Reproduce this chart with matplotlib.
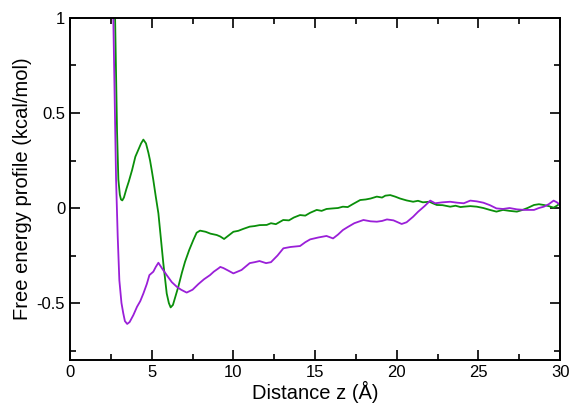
import matplotlib
matplotlib.use("Agg")
import matplotlib.pyplot as plt
from matplotlib.ticker import MultipleLocator

plt.rcParams['font.family'] = ['Liberation Sans', 'DejaVu Sans']
plt.rcParams['axes.unicode_minus'] = False

# curva verde
z_verde = [2.70, 2.76, 2.88, 2.96, 3.05, 3.12, 3.20, 3.30, 3.45, 3.60, 3.80, 4.00, 4.20, 4.35, 4.49,
           4.65, 4.80, 4.90, 5.00, 5.10, 5.25, 5.41, 5.55, 5.71, 5.92, 6.05, 6.16,
           6.30, 6.63, 6.85, 7.04, 7.30, 7.55, 7.75, 7.96, 8.30, 8.60, 8.98, 9.20,
           9.43, 9.70, 10.0, 10.3, 10.6, 11.0, 11.3, 11.6, 12.04, 12.3, 12.6, 13.05,
           13.4, 13.7, 14.08, 14.4, 14.7, 15.1, 15.4, 15.7, 16.1, 16.4, 16.7, 17.0,
           17.3, 17.76, 18.1, 18.4, 18.78, 19.1, 19.3, 19.6, 19.9, 20.2, 20.6, 21.0,
           21.3, 21.6, 22.0, 22.2, 22.45, 22.8, 23.27, 23.6, 23.9, 24.1, 24.5, 24.9,
           25.3, 25.7, 26.1, 26.5, 26.9, 27.35, 27.7, 28.0, 28.4, 28.7, 29.0, 29.3,
           29.6, 29.8, 30.0]
fe_verde = [1.20, 1.00, 0.40, 0.15, 0.07, 0.045, 0.04, 0.055, 0.10, 0.14, 0.20, 0.27, 0.31, 0.34, 0.36,
            0.34, 0.29, 0.25, 0.20, 0.147, 0.06, -0.028, -0.15, -0.29, -0.45, -0.50, -0.523,
            -0.51, -0.414, -0.34, -0.283, -0.22, -0.168, -0.13, -0.119, -0.125, -0.135, -0.142,
            -0.150, -0.163, -0.145, -0.125, -0.12, -0.11, -0.098, -0.095, -0.09, -0.089,
            -0.08, -0.085, -0.063, -0.065, -0.05, -0.037, -0.04, -0.025, -0.01, -0.015,
            -0.005, -0.002, 0.0, 0.007, 0.005, 0.02, 0.042, 0.045, 0.05, 0.06, 0.055,
            0.065, 0.068, 0.06, 0.05, 0.04, 0.033, 0.038, 0.03, 0.033, 0.025, 0.016, 0.015,
            0.007, 0.012, 0.005, 0.007, 0.01, 0.007, 0.0, -0.01, -0.019, -0.01, -0.015,
            -0.019, -0.01, 0.0, 0.016, 0.02, 0.016, 0.01, 0.002, 0.012, 0.025]

# curva violeta
z_violeta = [2.60, 2.65, 2.82, 2.92, 3.02, 3.15, 3.26, 3.36, 3.50, 3.65, 3.88, 4.10,
             4.30, 4.49, 4.70, 4.86, 5.10, 5.25, 5.41, 5.65, 5.92, 6.23, 6.53, 6.80,
             7.14, 7.50, 7.86, 8.20, 8.57, 8.80, 9.08, 9.20, 9.39, 9.70, 10.0, 10.5,
             11.0, 11.3, 11.6, 12.0, 12.3, 12.7, 13.06, 13.5, 14.08, 14.4, 14.7, 15.2,
             15.7, 16.1, 16.4, 16.7, 17.0, 17.4, 17.96, 18.4, 18.78, 19.1, 19.4, 19.8,
             20.3, 20.6, 21.0, 21.3, 21.7, 22.05, 22.35, 22.8, 23.27, 23.7, 24.1, 24.5,
             24.9, 25.3, 25.7, 26.1, 26.5, 26.9, 27.35, 27.8, 28.4, 28.7, 29.0, 29.3,
             29.6, 29.8, 30.0]
fe_violeta = [1.20, 1.00, 0.147, -0.15, -0.38, -0.50, -0.554, -0.595, -0.61, -0.60, -0.563,
              -0.52, -0.49, -0.45, -0.40, -0.353, -0.335, -0.31, -0.288, -0.32, -0.353,
              -0.39, -0.414, -0.43, -0.445, -0.43, -0.40, -0.375, -0.353, -0.335, -0.318,
              -0.31, -0.316, -0.33, -0.344, -0.326, -0.29, -0.285, -0.279, -0.29, -0.285,
              -0.25, -0.212, -0.205, -0.20, -0.18, -0.165, -0.155, -0.147, -0.16, -0.14,
              -0.116, -0.10, -0.08, -0.063, -0.07, -0.072, -0.068, -0.06, -0.065, -0.084,
              -0.075, -0.046, -0.02, 0.01, 0.039, 0.025, 0.03, 0.033, 0.028, 0.025, 0.039,
              0.035, 0.028, 0.015, -0.002, -0.005, 0.0, -0.007, -0.01, -0.01, 0.0, 0.007,
              0.02, 0.039, 0.03, 0.016]

fig = plt.figure(figsize=(5.71, 4.05), dpi=100)
ax = fig.add_axes([0.1226, 0.111, 0.8584, 0.8446])

ax.plot(z_verde, fe_verde, color='#0a8f0a', lw=1.3)
ax.plot(z_violeta, fe_violeta, color='#9a1fd8', lw=1.3)

ax.set_xlim(0, 30)
ax.set_ylim(-0.8, 1)
ax.set_xticks([0, 5, 10, 15, 20, 25, 30])
ax.set_yticks([-0.5, 0, 0.5, 1])
ax.set_yticklabels(['-0.5', '0', '0.5', '1'])
ax.xaxis.set_minor_locator(MultipleLocator(2.5))
ax.yaxis.set_minor_locator(MultipleLocator(0.25))
ax.tick_params(which='both', direction='in', top=True, right=True, labelsize=12, width=1.2)
ax.tick_params(which='major', length=7)
ax.tick_params(which='minor', length=4)
for s in ax.spines.values():
    s.set_linewidth(1.4)

ax.set_xlabel('Distance z (Å)', fontsize=14.5, labelpad=1)
ax.set_ylabel('Free energy profile (kcal/mol)', fontsize=14.5, labelpad=3)

fig.savefig('out.png', dpi=100)
